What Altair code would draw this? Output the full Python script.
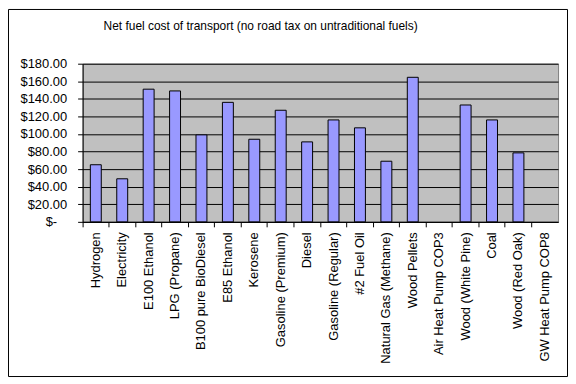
import altair as alt
import pandas as pd

categories = [
    "Hydrogen", "Electricity", "E100 Ethanol", "LPG (Propane)", "B100 pure BioDiesel",
    "E85 Ethanol", "Kerosene", "Gasoline (Premium)", "Diesel", "Gasoline (Regular)",
    "#2 Fuel Oil", "Natural Gas (Methane)", "Wood Pellets", "Air Heat Pump COP3",
    "Wood (White Pine)", "Coal", "Wood (Red Oak)", "GW Heat Pump COP8",
]
costs = [65, 49, 151, 149, 99, 136, 94, 127, 91, 116, 107, 69, 164.5, None, 133, 116, 78.5, None]
y_ticks = [0, 20, 40, 60, 80, 100, 120, 140, 160, 180]
title_text = "Net fuel cost of transport (no road tax on untraditional fuels)"

FONT = "Liberation Sans"
df = pd.DataFrame({"fuel": categories, "cost": costs})

bars = alt.Chart(df).mark_bar(
    size=11, color="#9999FF", stroke="black", strokeWidth=1
).encode(
    x=alt.X(
        "fuel:N", sort=None,
        scale=alt.Scale(domain=categories, paddingInner=0, paddingOuter=0),
        axis=alt.Axis(
            title=None, labelAngle=-90, labelFontSize=13, labelFont=FONT,
            labelColor="black", labelPadding=5, tickSize=5, tickColor="black",
            domainColor="black", bandPosition=0, labelLimit=0, grid=False,
        ),
    ),
    y=alt.Y(
        "cost:Q",
        scale=alt.Scale(domain=[0, 180], nice=False),
        axis=alt.Axis(
            title=None, values=y_ticks, grid=True, gridColor="black", gridOpacity=1,
            labelExpr="datum.value == 0 ? '$-\u2800' : '$' + format(datum.value, '.2f')",
            labelFontSize=13, labelFont=FONT, labelColor="black", labelPadding=11,
            tickSize=5, tickColor="black", domainColor="black",
        ),
    ),
)

frame = alt.Chart(pd.DataFrame({"a": [0]})).mark_rect(
    fillOpacity=0, stroke="black", strokeWidth=1, clip=False
).encode(
    x=alt.value(-74.5), x2=alt.value(487.5), y=alt.value(-54.5), y2=alt.value(314.5)
)

chart = alt.layer(bars, frame).properties(
    width=478, height=159,
    title=alt.TitleParams(
        title_text, fontSize=12, font=FONT, fontWeight="normal", color="black",
        anchor="middle", dx=-60, offset=-36.5, baseline="bottom",
    ),
    autosize=alt.AutoSizeParams(type="none"),
    padding={"left": 75, "top": 55, "right": 10, "bottom": 156},
    background="white",
).configure_view(
    fill="#C0C0C0", stroke="#808080", strokeWidth=1
)

chart.save("out.html", embed_options={"renderer": "svg", "actions": False})
